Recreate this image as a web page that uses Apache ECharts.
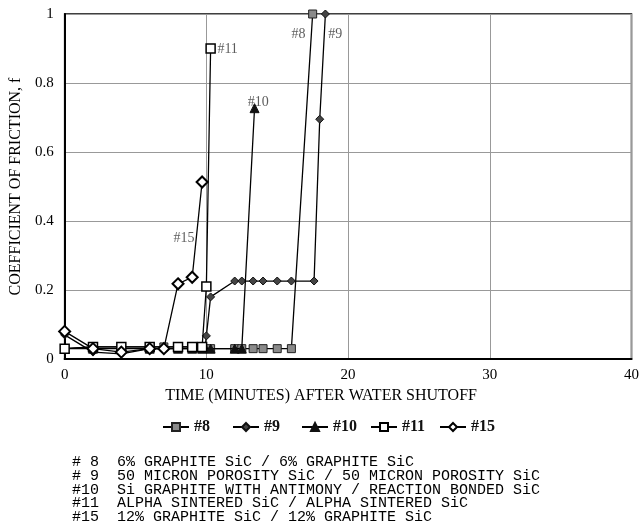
<!DOCTYPE html>
<html>
<head>
<meta charset="utf-8">
<script src="https://cdn.jsdelivr.net/npm/echarts@6/dist/echarts.min.js"></script>
<style>
html,body{margin:0;padding:0;background:#fff;}
#chart{width:642px;height:529px;}
</style>
</head>
<body>
<div id="chart"></div>
<script>
// ---- data ----
var t8  = [0, 2, 4, 6, 7, 8, 9, 9.7, 10.3, 12, 12.5, 13.3, 14, 15, 16, 17.5];
var f8  = [0.03, 0.035, 0.035, 0.035, 0.035, 0.035, 0.035, 0.03, 0.03, 0.03, 0.03, 0.03, 0.03, 0.03, 0.03, 1.0];

var t9  = [0, 2, 4, 6, 8, 9, 9.9, 10.0, 10.3, 12, 12.5, 13.3, 14, 15, 16, 17.6, 18, 18.4];
var f9  = [0.07, 0.02, 0.015, 0.03, 0.03, 0.03, 0.03, 0.067, 0.18, 0.226, 0.226, 0.226, 0.226, 0.226, 0.226, 0.226, 0.695, 1.0];

var t10 = [0, 2, 4, 6, 8, 9, 9.7, 10.3, 12, 12.5, 13.4];
var f10 = [0.03, 0.03, 0.03, 0.03, 0.03, 0.03, 0.03, 0.03, 0.03, 0.03, 0.727];

var t11 = [0, 2, 4, 6, 8, 9, 9.7, 10.0, 10.3];
var f11 = [0.03, 0.035, 0.035, 0.035, 0.035, 0.035, 0.035, 0.21, 0.9];

var t15 = [0, 2, 4, 6, 7, 8, 9, 9.7];
var f15 = [0.08, 0.03, 0.02, 0.03, 0.03, 0.218, 0.237, 0.513];

var seriesNames = ['#8', '#9', '#10', '#11', '#15'];

// curve annotations: [time, f, text]
var annotations = [
  [16.5, 0.942, '#8'],
  [19.1, 0.942, '#9'],
  [13.66, 0.745, '#10'],
  [11.5, 0.898, '#11'],
  [8.43, 0.35, '#15']
];

var noteIds = ['# 8', '# 9', '#10', '#11', '#15'];
var noteTexts = [
  '6% GRAPHITE SiC / 6% GRAPHITE SiC',
  '50 MICRON POROSITY SiC / 50 MICRON POROSITY SiC',
  'Si GRAPHITE WITH ANTIMONY / REACTION BONDED SiC',
  'ALPHA SINTERED SiC / ALPHA SINTERED SiC',
  '12% GRAPHITE SiC / 12% GRAPHITE SiC'
];

var xTicks = {min: 0, max: 40, interval: 10};
var yTicks = {min: 0, max: 1, interval: 0.2};
var xTitle = 'TIME (MINUTES) AFTER WATER SHUTOFF';
var yTitle = 'COEFFICIENT OF FRICTION, f';

// ---- build ----
function zip(t, f) { return t.map(function (v, i) { return [v, f[i]]; }); }

var serif = 'Liberation Serif';
var styles = [
  {symbol: 'rect', size: 8, fill: '#8a8a8a', border: '#222', bw: 1},
  {symbol: 'diamond', size: 8, fill: '#444', border: '#111', bw: 1},
  {symbol: 'triangle', size: 9, fill: '#111', border: '#111', bw: 1},
  {symbol: 'rect', size: 9, fill: '#fff', border: '#000', bw: 1.5},
  {symbol: 'diamond', size: 11, fill: '#fff', border: '#000', bw: 2}
];
var datas = [zip(t8, f8), zip(t9, f9), zip(t10, f10), zip(t11, f11), zip(t15, f15)];

var series = seriesNames.map(function (n, i) {
  var s = styles[i];
  return {
    name: n, type: 'line', data: datas[i],
    symbol: s.symbol, symbolSize: s.size, showAllSymbol: true,
    lineStyle: {color: '#000', width: 1.3},
    itemStyle: {color: s.fill, borderColor: s.border, borderWidth: s.bw},
    z: 3 + i, animation: false
  };
});
series.push({
  type: 'scatter', name: 'ann', symbolSize: 0,
  data: annotations.map(function (a) { return {value: [a[0], a[1]], name: a[2]}; }),
  label: {show: true, position: 'inside', formatter: function (p) { return p.name; },
          fontFamily: serif, fontSize: 14, color: '#333'},
  silent: true, animation: false, z: 10
});

var legendLefts = [157, 227, 296, 365, 434];
var legends = seriesNames.map(function (n, i) {
  return {
    data: [n], left: legendLefts[i], top: 414, itemWidth: 26, itemHeight: 10,
    itemGap: 4,
    textStyle: {fontFamily: serif, fontSize: 16, fontWeight: 'bold', color: '#111'}
  };
});

var graphics = noteIds.map(function (id, i) {
  return {
    type: 'text', left: 72, top: 455 + i * 13.6,
    style: {text: id + '  ' + noteTexts[i], font: '15px "Liberation Mono"', fill: '#000'}
  };
});

var chart = echarts.init(document.getElementById('chart'), null, {renderer: 'canvas'});
chart.setOption({
  animation: false,
  backgroundColor: '#fff',
  grid: {left: 61, right: 7, top: 14, bottom: 170, show: true, borderColor: '#000', borderWidth: 1.5},
  xAxis: {
    type: 'value', min: xTicks.min, max: xTicks.max, interval: xTicks.interval,
    name: xTitle, nameLocation: 'middle', nameGap: 24,
    nameTextStyle: {fontFamily: serif, fontSize: 16, color: '#000', padding: [0, 54, 0, 0]},
    axisLine: {lineStyle: {color: '#000', width: 2}},
    axisTick: {show: false},
    axisLabel: {fontFamily: serif, fontSize: 15, color: '#000', margin: 9},
    splitLine: {lineStyle: {color: '#999', width: 1}}
  },
  yAxis: {
    type: 'value', min: yTicks.min, max: yTicks.max, interval: yTicks.interval,
    name: yTitle, nameLocation: 'middle', nameGap: 38, nameRotate: 90,
    nameTextStyle: {fontFamily: serif, fontSize: 16, color: '#000'},
    axisLine: {show: true, lineStyle: {color: '#000', width: 2}},
    axisTick: {show: false},
    axisLabel: {fontFamily: serif, fontSize: 15, color: '#000', margin: 11},
    splitLine: {lineStyle: {color: '#999', width: 1}}
  },
  legend: legends,
  series: series,
  graphic: graphics
});
</script>
</body>
</html>
